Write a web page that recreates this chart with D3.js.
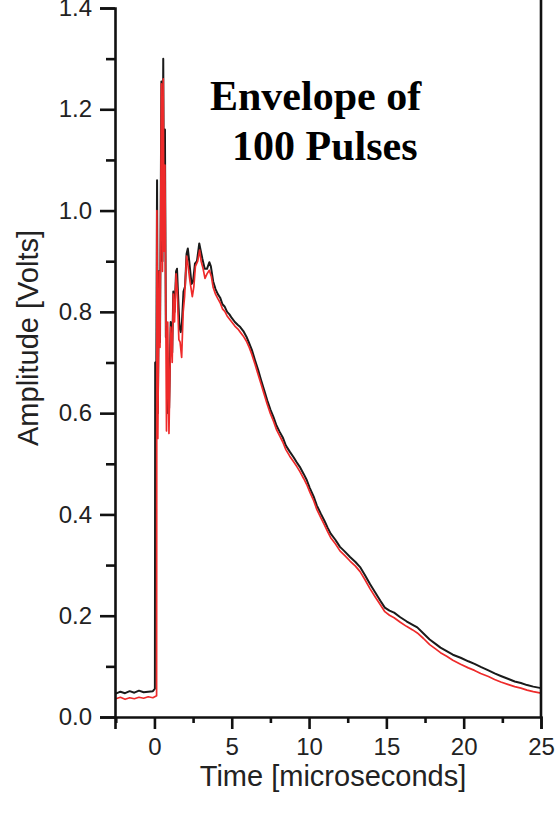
<!DOCTYPE html>
<html>
<head>
<meta charset="utf-8">
<script src="https://cdn.jsdelivr.net/npm/d3@7"></script>
<style>
  body { margin: 0; background: #fff; }
  svg { display: block; }
</style>
</head>
<body>
<div id="chart"></div>
<script>
// black trace (envelope, upper)
var blackTime = [-2.5,-2.2,-1.9,-1.6,-1.3,-1.0,-0.7,-0.4,-0.1,0.03,
  0.05,0.10,0.17,0.22,0.30,0.36,0.45,0.52,0.57,0.62,0.68,0.74,0.80,0.88,0.95,
  1.05,1.15,1.22,1.30,1.40,1.46,1.52,1.62,1.70,1.78,1.88,1.98,2.08,2.16,2.25,
  2.40,2.50,2.62,2.75,2.90,3.00,3.10,3.25,3.40,3.55,3.65,3.80,3.95,4.10,4.25,
  4.40,4.55,4.70,4.85,5.00,5.20,5.40,5.55,5.75,5.95,6.10,6.30,6.50,6.70,6.90,
  7.10,7.30,7.50,7.70,7.90,8.10,8.30,8.50,8.75,9.00,9.20,9.40,9.65,9.85,10.05,
  10.30,10.50,10.75,11.00,11.20,11.40,11.70,12.00,12.30,12.65,13.00,13.30,13.60,13.95,14.30,
  14.60,14.90,15.20,15.50,15.90,16.30,16.70,17.00,17.40,17.80,18.20,18.50,18.90,19.30,19.80,
  20.30,20.70,21.10,21.60,22.00,22.40,22.90,23.30,23.70,24.10,24.50,25.00]
var blackAmp = [0.046,0.050,0.047,0.051,0.048,0.052,0.049,0.050,0.051,0.056,
  0.70,0.53,1.06,0.60,0.88,0.74,1.255,0.90,1.30,0.95,1.16,0.75,0.77,0.60,0.61,
  0.78,0.72,0.84,0.80,0.88,0.885,0.84,0.77,0.76,0.78,0.84,0.85,0.915,0.925,0.90,
  0.855,0.86,0.895,0.90,0.935,0.92,0.905,0.885,0.885,0.898,0.89,0.86,0.845,0.835,0.828,
  0.815,0.81,0.800,0.795,0.788,0.780,0.774,0.770,0.762,0.751,0.740,0.725,0.705,0.686,0.665,
  0.645,0.625,0.607,0.592,0.575,0.563,0.552,0.536,0.524,0.513,0.503,0.494,0.480,0.468,0.452,
  0.435,0.418,0.402,0.387,0.374,0.362,0.350,0.336,0.327,0.316,0.306,0.296,0.281,0.262,0.245,
  0.230,0.216,0.210,0.206,0.197,0.189,0.182,0.177,0.165,0.153,0.144,0.137,0.130,0.123,0.117,
  0.110,0.105,0.099,0.092,0.086,0.081,0.075,0.070,0.067,0.063,0.060,0.057]

// red trace
var redTime = [-2.5,-2.2,-1.9,-1.6,-1.3,-1.0,-0.7,-0.4,-0.1,0.14,
  0.16,0.22,0.30,0.36,0.45,0.52,0.57,0.62,0.68,0.78,0.86,0.94,
  1.05,1.15,1.22,1.30,1.40,1.48,1.58,1.66,1.76,1.86,1.95,2.08,2.18,2.30,
  2.45,2.55,2.65,2.80,2.92,3.02,3.15,3.27,3.40,3.55,3.68,3.80,3.95,4.10,4.25,
  4.40,4.55,4.70,4.85,5.00,5.20,5.40,5.55,5.75,5.95,6.10,6.30,6.50,6.70,6.90,
  7.10,7.30,7.50,7.70,7.90,8.10,8.30,8.50,8.75,9.00,9.20,9.40,9.65,9.85,10.05,
  10.30,10.50,10.75,11.00,11.20,11.40,11.70,12.00,12.30,12.65,13.00,13.30,13.60,13.95,14.30,
  14.60,14.90,15.20,15.50,15.90,16.30,16.70,17.00,17.40,17.80,18.20,18.50,18.90,19.30,19.80,
  20.30,20.70,21.10,21.60,22.00,22.40,22.90,23.30,23.70,24.10,24.50,25.00]
var redAmp = [0.036,0.039,0.035,0.038,0.036,0.039,0.037,0.040,0.038,0.042,
  1.00,0.55,0.88,0.73,1.25,0.88,1.26,0.92,1.09,0.565,0.78,0.56,
  0.77,0.70,0.835,0.78,0.875,0.84,0.745,0.74,0.71,0.80,0.83,0.91,0.89,0.86,
  0.83,0.85,0.89,0.90,0.922,0.90,0.885,0.866,0.875,0.882,0.87,0.848,0.835,0.826,0.818,
  0.806,0.801,0.792,0.786,0.780,0.772,0.766,0.760,0.752,0.742,0.732,0.716,0.697,0.677,0.657,
  0.637,0.617,0.599,0.584,0.567,0.555,0.543,0.528,0.515,0.504,0.495,0.485,0.471,0.459,0.444,
  0.427,0.410,0.394,0.379,0.366,0.354,0.342,0.328,0.319,0.308,0.298,0.287,0.272,0.253,0.236,
  0.222,0.208,0.201,0.196,0.187,0.179,0.172,0.166,0.155,0.143,0.134,0.127,0.120,0.112,0.104,
  0.097,0.092,0.086,0.080,0.074,0.069,0.064,0.060,0.057,0.053,0.050,0.047]

var xTicks = [0, 5, 10, 15, 20, 25]
var xMinor = [-2.5, 2.5, 7.5, 12.5, 17.5, 22.5]
var yTicks = [0.0, 0.2, 0.4, 0.6, 0.8, 1.0, 1.2, 1.4]
var yMinor = [0.1, 0.3, 0.5, 0.7, 0.9, 1.1, 1.3]

var W = 558, H = 816
var margin = {top: 8, right: 17, bottom: 99, left: 115}

var svg = d3.select("#chart").append("svg")
  .attr("width", W).attr("height", H)

var x = d3.scaleLinear().domain([-2.55, 25]).range([margin.left, W - margin.right])
var y = d3.scaleLinear().domain([0, 1.4]).range([H - margin.bottom, margin.top])

var axisFont = "'Liberation Sans', Arial, sans-serif"

// traces
var line = d3.line().x(d => x(d[0])).y(d => y(d[1]))
svg.append("path")
  .datum(d3.zip(blackTime, blackAmp))
  .attr("fill", "none").attr("stroke", "#1a1a1a")
  .attr("stroke-width", 2).attr("stroke-linejoin", "round")
  .attr("d", line)
svg.append("path")
  .datum(d3.zip(redTime, redAmp))
  .attr("fill", "none").attr("stroke", "#ee2a2a")
  .attr("stroke-width", 1.7).attr("stroke-linejoin", "round")
  .attr("d", line)

// bottom axis
var gx = svg.append("g").attr("transform", `translate(0,${y(0)})`)
gx.call(d3.axisBottom(x).tickValues(xTicks).tickSize(12).tickPadding(9).tickFormat(d3.format("d")))
gx.append("g").call(d3.axisBottom(x).tickValues(xMinor).tickSize(6).tickFormat(""))
  .select(".domain").remove()

// left axis
var gy = svg.append("g").attr("transform", `translate(${x(-2.55)},0)`)
gy.call(d3.axisLeft(y).tickValues(yTicks).tickSize(15).tickPadding(8).tickFormat(d3.format(".1f")))
gy.append("g").call(d3.axisLeft(y).tickValues(yMinor).tickSize(9).tickFormat(""))
  .select(".domain").remove()

svg.selectAll(".domain").attr("stroke", "#111").attr("stroke-width", 2.6)
svg.selectAll(".tick line").attr("stroke", "#111").attr("stroke-width", 2.6)
svg.selectAll(".tick text")
  .attr("font-family", axisFont).attr("font-size", 24).attr("fill", "#222")

// right frame line
svg.append("line")
  .attr("x1", x(25)).attr("x2", x(25))
  .attr("y1", 0).attr("y2", y(0))
  .attr("stroke", "#111").attr("stroke-width", 2.6)

// axis titles
svg.append("text")
  .attr("x", 333).attr("y", 786)
  .attr("text-anchor", "middle")
  .attr("font-family", axisFont).attr("font-size", 29).attr("fill", "#222")
  .text("Time [microseconds]")

svg.append("text")
  .attr("transform", "translate(38,338) rotate(-90)")
  .attr("text-anchor", "middle")
  .attr("font-family", axisFont).attr("font-size", 29).attr("fill", "#222")
  .text("Amplitude [Volts]")

// annotation
var note = svg.append("text")
  .attr("font-family", "'Liberation Serif', 'Times New Roman', serif")
  .attr("font-weight", "bold").attr("font-size", 42).attr("fill", "#000")
note.append("tspan").attr("x", 210).attr("y", 110).text("Envelope of")
note.append("tspan").attr("x", 232).attr("y", 160).text("100 Pulses")
</script>
</body>
</html>
